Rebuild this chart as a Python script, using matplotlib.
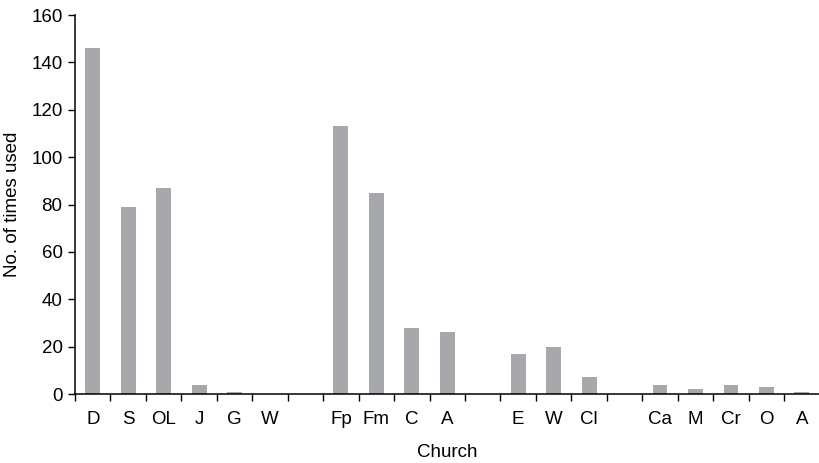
import numpy as np
import matplotlib.pyplot as plt
from matplotlib.ticker import FixedLocator, NullFormatter

plt.rcParams['font.family'] = ['Liberation Sans', 'DejaVu Sans']

# categories, with blank slots separating the groups
labels = ['D', 'S', 'OL', 'J', 'G', 'W', '',
          'Fp', 'Fm', 'C', 'A', '',
          'E', 'W', 'Cl', '',
          'Ca', 'M', 'Cr', 'O', 'A']
counts = [146, 79, 87, 4, 1, 0, 0,
          113, 85, 28, 26, 0,
          17, 20, 7, 0,
          4, 2, 4, 3, 1]

fig = plt.figure(figsize=(8.2, 4.63), dpi=100)
ax = fig.add_axes([0.0915, 0.149, 0.908, 0.8186])

x = np.arange(len(labels))
ax.bar(x, counts, width=0.42, color='#a7a8ac')

ax.set_xlim(-0.5, len(labels) - 0.5)
ax.set_ylim(0, 160)
ax.set_yticks(np.arange(0, 161, 20))

# tick marks between slots, labels at slot centres
ax.xaxis.set_major_locator(FixedLocator(np.arange(-0.5, len(labels), 1.0)))
ax.xaxis.set_major_formatter(NullFormatter())
ax.xaxis.set_minor_locator(FixedLocator(x))
ax.set_xticklabels(labels, minor=True)
ax.tick_params(axis='x', which='minor', length=0, pad=12, labelsize=13.5)
ax.tick_params(axis='x', which='major', length=5, width=1, direction='out')
ax.tick_params(axis='y', length=5, width=1, direction='out', labelsize=13.5, pad=4)

for s in ['top', 'right']:
    ax.spines[s].set_visible(False)
ax.spines['left'].set_linewidth(1.1)
ax.spines['bottom'].set_linewidth(1.1)

ax.set_xlabel('Church', fontsize=13.5, labelpad=12)
ax.set_ylabel('No. of times used', fontsize=13.5, labelpad=7)

fig.savefig('out.png', dpi=100)
